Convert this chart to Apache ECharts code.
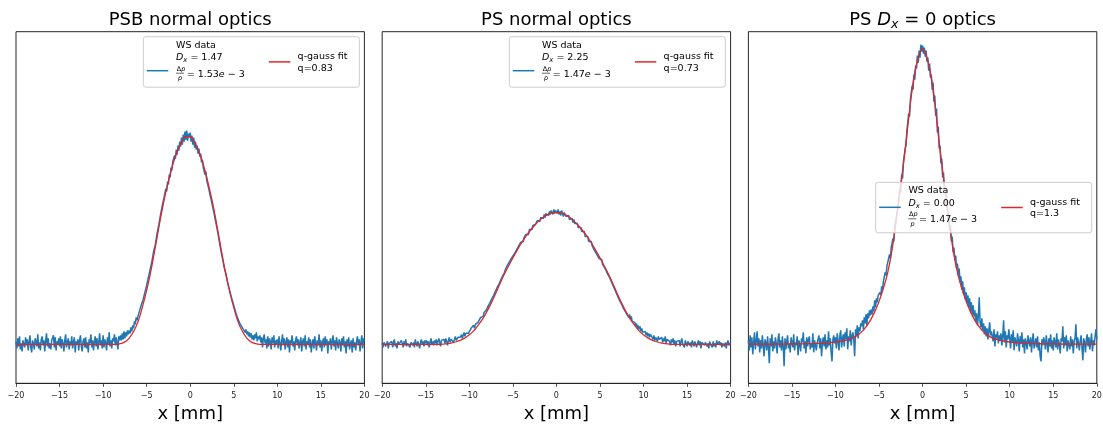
<!DOCTYPE html>
<html>
<head>
<meta charset="utf-8">
<title>WS profiles with q-gauss fits</title>
<script src="https://cdn.jsdelivr.net/npm/echarts@6/dist/echarts.min.js"></script>
<style>
  html, body { margin: 0; padding: 0; background: #fff; }
  #chart { width: 1103px; height: 424px; }
</style>
</head>
<body>
<div id="chart"></div>
<script>
// sample grids (mm): wire scanner data every 0.1 mm, fit read every 0.5 mm
const X_MIN = -20;
const X_MAX = 20;
const DATA_STEP = 0.1;
const FIT_STEP = 0.5;

const panelTitles = ['PSB normal optics', 'PS normal optics', '{n|PS }{i|D}{s|x}{n| = 0 optics}'];
const dxLabels = ['1.47', '2.25', '0.00'];
const dppLabels = ['1.53', '1.47', '1.47'];
const qLabels = ['0.83', '0.73', '1.3'];

// WS data, PSB normal optics (arb. units, baseline ~0)
const psbData = [
  3,-4,6,-2,8,-5,1,-7,4,0, -3,7,-1,5,-6,2,9,-3,-8,4, 1,-5,6,3,-2,10,-4,2,-6,5,
  8,-1,4,-7,3,11,-2,6,-4,1, -5,4,2,9,-3,7,-6,3,0,6, -2,8,-4,5,1,-7,4,10,-3,2,
  6,-5,3,-1,8,-4,2,7,-8,3, 0,5,-6,4,9,-2,-7,3,6,-3, 7,-4,2,-8,5,1,10,-3,4,-6,
  3,8,-2,6,-5,2,11,-1,4,-4, 9,-3,5,2,-6,7,0,12,-2,4, -4,6,3,10,-1,7,2,-5,8,4,
  9,4,11,5,13,6,12,8,14,10, 14,11,17,13,19,16,23,20,27,24, 28,27,34,32,40,38,45,44,52,51,
  59,58,67,65,75,74,83,82,93,91, 100,101,111,110,120,119,130,128,139,138,
  147,146,156,153,163,160,170,167,177,174, 183,181,189,186,195,190,199,194,203,198,
  207,200,210,203,213,205,214,204,211,207, 212,203,209,200,207,197,203,195,199,191,
  196,188,191,182,185,177,179,170,173,164, 166,157,159,149,151,141,143,133,134,124,
  125,115,115,105,105,95,96,86,87,77, 78,71,70,62,62,55,55,48,48,42,
  42,36,36,30,31,25,26,21,23,18, 19,15,17,12,15,10,13,8,12,7, 11,5,9,4,10,6,12,3,8,5,
  9,2,7,-3,6,10,1,5,-4,8, -2,6,3,-5,7,1,9,-3,4,0, 5,-4,8,2,-6,3,10,-1,6,-5,
  2,7,-3,5,-8,4,1,9,-2,3, -6,4,8,-1,5,-4,2,7,-7,3, 6,-2,9,-5,3,0,7,-3,5,-8,
  1,5,-4,8,2,-6,4,-1,10,-3, 4,-7,2,6,-3,8,-1,5,-9,3, 0,6,-5,3,9,-2,4,-6,7,1,
  -4,5,2,-7,6,-1,8,-3,3,-9, 5,-2,7,-5,1,4,-8,6,-3,2, -6,3,8,-1,5,-7,2,9,-4,6,
  3
];

// WS data, PS normal optics
const psData = [
  1,-3,2,4,-2,0,3,-4,1,2, -1,3,-3,2,5,-2,1,-4,3,0, 2,-2,4,1,-3,3,-1,5,-2,1,
  3,0,-3,2,4,-1,2,-3,5,1, -2,3,1,-4,2,5,0,3,-2,4, 1,4,-1,3,-3,2,6,0,3,-1,
  4,1,5,-1,3,6,2,-2,4,3, 2,5,1,6,3,-1,4,7,2,5, 3,6,2,5,8,4,3,7,5,9,
  7,10,6,9,12,8,11,10,13,11, 13,12,16,14,17,19,16,20,22,21, 22,24,23,27,26,29,28,32,31,34,
  35,36,39,38,42,43,46,45,49,50, 53,52,57,58,60,62,64,63,68,69, 71,74,73,78,77,81,80,84,83,87,
  88,87,91,90,94,95,94,99,98,102, 100,104,103,107,106,110,108,112,110,115,
  113,116,115,119,117,121,120,119,124,122, 125,123,127,126,128,126,130,127,131,129,
  131,129,133,130,134,132,130,135,131,134, 133,131,135,130,133,129,134,131,128,132,
  131,128,130,126,129,125,127,124,126,122, 125,121,123,119,121,117,119,115,117,113,
  115,111,113,108,110,106,108,103,105,101, 103,99,100,95,97,92,94,89,91,86,
  88,84,85,80,82,77,79,74,76,70, 72,67,69,63,64,59,61,55,57,51, 52,47,49,43,45,40,42,36,38,33,
  35,30,32,27,30,25,28,23,25,21, 22,18,21,16,19,15,18,13,16,12, 14,10,13,9,12,8,11,7,10,9,
  8,5,9,4,7,6,3,8,5,7, 4,7,2,6,3,8,1,5,4,6, 3,-1,5,2,6,0,4,-2,3,5,
  1,4,-2,3,6,0,2,-3,4,1, -2,3,5,-1,2,-3,4,1,-2,3, 2,-3,1,4,-1,3,-4,2,0,3,
  -1,2,4,-2,1,-4,3,0,2,-3, 3,-2,1,-3,4,0,-2,3,-1,2, -3,1,3,-2,2,-4,1,4,-1,0,
  2
];

// WS data, PS Dx = 0 optics
const psDx0Data = [
  4,-6,9,-3,7,-10,2,12,-5,3, 13,-2,6,-8,4,-4,9,-1,-12,5, 2,-6,8,-3,-19,6,-2,10,-7,3,
  -4,7,1,-9,5,11,-3,4,-6,8, -2,-22,6,-5,3,9,-4,1,-8,7, 5,-3,10,-6,2,-1,8,-11,4,0,
  -7,6,2,12,-4,3,-9,7,-2,5, 8,-5,1,-3,11,-8,4,6,-6,2, 3,9,-4,6,-12,2,7,-2,10,-5,
  4,-3,13,-1,6,-8,-17,5,9,1, 7,-4,11,3,-6,9,14,-3,6,10, -2,12,5,16,-5,8,3,14,-1,9,
  12,4,-12,15,9,19,6,17,13,21, 18,24,15,27,21,30,19,31,26,34, 29,35,30,38,33,44,37,46,42,49,
  47,52,49,58,55,63,61,72,69,78, 80,78,90,86,97,95,106,103,118,116,
  128,127,141,140,156,152,170,166,183,182, 196,199,214,212,231,228,245,243,259,255,
  270,265,279,276,289,282,294,287,300,293, 299,291,297,288,294,283,287,274,281,267,
  270,255,262,243,249,229,236,212,218,196, 199,181,186,167,172,152,157,139,144,126,
  129,114,119,103,108,92,97,84,89,76, 81,69,76,62,68,55,63,50,57,45,
  52,41,49,37,46,33,42,30,39,28, 34,23,31,19,28,47,22,17,26,14, 21,10,18,8,16,5,14,22,9,13,
  12,3,15,-2,10,6,13,1,9,4, 11,-1,8,24,2,13,-3,9,5,15, 6,-4,10,2,14,-6,7,3,-2,11,
  4,-7,8,1,12,-3,5,-9,6,2, -5,9,3,-2,7,-8,4,11,-4,1, 6,-3,8,-6,2,-12,-17,5,-1,7,
  3,-5,9,1,-8,6,-2,10,-4,4, -6,7,2,-3,11,-5,5,0,-9,6, 3,18,-4,7,-1,9,-7,4,2,-5,
  8,-2,5,-9,3,6,20,-4,7,1, -6,4,9,-3,-16,6,2,-8,5,10, -2,7,-5,3,11,-7,4,-1,8,15,
  5
];

// q-gauss fits, read every 0.5 mm
const psbFit = [
  0,0,0,0,0,0,0,0,0,0,0,0,0,0,0,0,0,0,0,0,0,0,0,0,
  0.7,2.5,6.3,12.8,22.5,37,54,74,97.5,122,144.5,163.5,180,193,202.5,208,
  208,202.5,193,180,163.5,144.5,122,97.5,74,54,37,22.5,12.8,6.3,2.5,0.7,0,
  0,0,0,0,0,0,0,0,0,0,0,0,0,0,0,0,0,0,0,0,0,0,0,0
];
const psFit = [
  0,0,0,0,0,0,0,0,0,0,0,0,0,0,
  0.2,0.7,1.5,2.6,4.2,6.5,9.5,13.5,19,25,32.5,41,50.5,60.5,70,78.5,86.6,94.4,101.7,108.3,114,119.2,123.6,127.2,129.8,131.5,
  132,
  131.5,129.8,127.2,123.6,119.2,114,108.3,101.7,94.4,86.6,78.5,70,60.5,50.5,41,32.5,25,19,13.5,9.5,6.5,4.2,2.6,1.5,0.7,0.2,
  0,0,0,0,0,0,0,0,0,0,0,0,0,0
];
const psDx0Fit = [
  0.15,0.15,0.2,0.2,0.2,0.25,0.25,0.3,0.3,0.35,0.4,0.45,0.5,0.6,0.7,0.8,1,1.2,1.5,1.9,
  2.3,3,3.8,5,6.5,9,12.5,17.5,24,32.5,43,56,72,95,126,160,195,234,267,287,
  296,
  287,267,234,195,160,126,95,72,56,43,32.5,24,17.5,12.5,9,6.5,5,3.8,3,2.3,
  1.9,1.5,1.2,1,0.8,0.7,0.6,0.5,0.45,0.4,0.35,0.3,0.3,0.25,0.25,0.2,0.2,0.2,0.15,0.15
];

const FONT = 'DejaVu Sans';
const BLUE = '#1f77b4';
const RED = '#e0262a';
const AXIS = '#262626';

const gridLefts = [16, 382.2, 748.4];
const gridWidth = 348.4;
const gridTop = 31.7;
const gridHeight = 351.6;

const allData = [psbData, psData, psDx0Data];
const allFits = [psbFit, psFit, psDx0Fit];

function toPairs(values, step) {
  return values.map((v, k) => [+(X_MIN + k * step).toFixed(2), v]);
}

const grids = [], xAxes = [], yAxes = [], series = [], titles = [];

for (let i = 0; i < 3; i++) {
  grids.push({
    left: gridLefts[i], top: gridTop, width: gridWidth, height: gridHeight,
    containLabel: false, outerBoundsMode: 'none',
    show: true, borderColor: AXIS, borderWidth: 1, backgroundColor: 'transparent'
  });
  xAxes.push({
    type: 'value', gridIndex: i, min: X_MIN, max: X_MAX, interval: 5,
    name: 'x [mm]', nameLocation: 'middle', nameGap: 21,
    nameTextStyle: { fontFamily: FONT, fontSize: 18, color: '#000' },
    axisLine: { show: true, onZero: false, lineStyle: { color: AXIS, width: 1 } },
    axisTick: { show: true, length: 3.5, lineStyle: { color: AXIS, width: 0.8 } },
    axisLabel: {
      fontFamily: FONT, fontSize: 8, color: '#222', margin: 9,
      formatter: v => String(v).replace('-', '\u2212')
    },
    splitLine: { show: false }
  });
  yAxes.push({
    type: 'value', gridIndex: i, min: -39, max: 313, show: false,
    splitLine: { show: false }
  });
  series.push({
    type: 'line', xAxisIndex: i, yAxisIndex: i, name: 'WS data',
    data: toPairs(allData[i], DATA_STEP),
    showSymbol: false, symbol: 'none',
    lineStyle: { color: BLUE, width: 1.5 },
    itemStyle: { color: BLUE },
    z: 2
  });
  series.push({
    type: 'line', xAxisIndex: i, yAxisIndex: i, name: 'q-gauss fit',
    data: toPairs(allFits[i], FIT_STEP),
    showSymbol: false, symbol: 'none', smooth: 0.35,
    lineStyle: { color: RED, width: 1.3 },
    itemStyle: { color: RED },
    z: 3
  });
  titles.push({
    text: panelTitles[i],
    left: gridLefts[i] + gridWidth / 2, top: 9, textAlign: 'center', padding: 0,
    textStyle: {
      fontFamily: FONT, fontSize: 18, fontWeight: 'normal', color: '#000', lineHeight: 22,
      rich: {
        n: { fontFamily: FONT, fontSize: 18, color: '#000', lineHeight: 22 },
        i: { fontFamily: FONT, fontSize: 18, fontStyle: 'italic', color: '#000', lineHeight: 22 },
        s: { fontFamily: FONT, fontSize: 12.6, fontStyle: 'italic', color: '#000', lineHeight: 14, verticalAlign: 'bottom' }
      }
    }
  });
}

// legend boxes drawn as graphics (matplotlib style, with the fraction label)
const legendSpots = [
  { left: 143.3, top: 36.7, blueDy: 34 },
  { left: 509.3, top: 36.7, blueDy: 34 },
  { left: 875.7, top: 182.3, blueDy: 25 }
];

function richSet(size) {
  return {
    n: { fontFamily: FONT, fontSize: size, fill: '#000', color: '#000', lineHeight: size + 3 },
    i: { fontFamily: FONT, fontSize: size, fontStyle: 'italic', fill: '#000', color: '#000', lineHeight: size + 3 },
    s: { fontFamily: FONT, fontSize: size * 0.72, fontStyle: 'italic', fill: '#000', color: '#000', lineHeight: size * 0.8, verticalAlign: 'bottom' }
  };
}

function text(x, y, str, size) {
  return {
    type: 'text', x: x, y: y, z: 102, silent: true,
    style: {
      text: str, fontFamily: FONT, fontSize: size, fill: '#000',
      align: 'left', verticalAlign: 'middle', textAlign: 'left', textVerticalAlign: 'middle',
      rich: richSet(size)
    }
  };
}

function legendElements(i) {
  const L = legendSpots[i].left, T = legendSpots[i].top;
  return [
    {
      type: 'rect', z: 100, silent: true,
      shape: { x: L, y: T, width: 216, height: 50.5, r: 2.5 },
      style: { fill: 'rgba(255,255,255,0.8)', stroke: '#cccccc', lineWidth: 1 }
    },
    {
      type: 'line', z: 101, silent: true,
      shape: { x1: L + 3.5, y1: T + legendSpots[i].blueDy, x2: L + 25, y2: T + legendSpots[i].blueDy },
      style: { stroke: BLUE, lineWidth: 1.5 }
    },
    text(L + 32.7, T + 8.5, 'WS data', 9.5),
    text(L + 32.7, T + 20.8, '{i|D}{s|x}{n| = ' + dxLabels[i] + '}', 9.5),
    text(L + 33.4, T + 32.2, '{n|\u0394}{i|p}', 6.5),
    {
      type: 'line', z: 101, silent: true,
      shape: { x1: L + 32.7, y1: T + 36.5, x2: L + 40.7, y2: T + 36.5 },
      style: { stroke: '#000', lineWidth: 0.6 }
    },
    text(L + 34.8, T + 41.8, '{i|p}', 6.5),
    text(L + 43.4, T + 37.4, '{n|= ' + dppLabels[i] + '}{i|e}{n| \u2212 3}', 9.5),
    {
      type: 'line', z: 101, silent: true,
      shape: { x1: L + 125.5, y1: T + 25.2, x2: L + 147, y2: T + 25.2 },
      style: { stroke: RED, lineWidth: 1.5 }
    },
    text(L + 154.3, T + 19.8, 'q-gauss fit', 9.5),
    text(L + 154.3, T + 31.4, 'q=' + qLabels[i], 9.5)
  ];
}

const chart = echarts.init(document.getElementById('chart'), null, { renderer: 'canvas' });
chart.setOption({
  animation: false,
  backgroundColor: '#ffffff',
  title: titles,
  grid: grids,
  xAxis: xAxes,
  yAxis: yAxes,
  series: series,
  graphic: { elements: [].concat(legendElements(0), legendElements(1), legendElements(2)) }
});
</script>
</body>
</html>
